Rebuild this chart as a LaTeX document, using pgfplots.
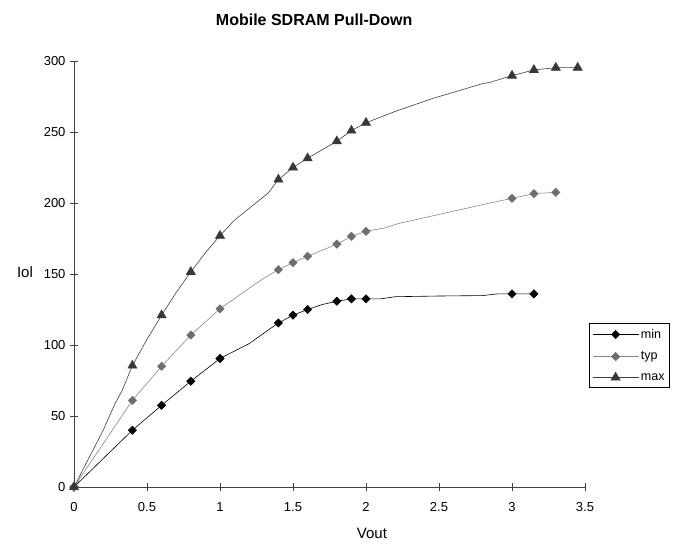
\documentclass[border=0pt]{standalone}
\usepackage{pgfplots}
\pgfplotsset{compat=1.18}
\usepackage{fontspec}
\setmainfont{Liberation Sans}
\definecolor{typline}{HTML}{888888}
\definecolor{typmark}{HTML}{6E6E6E}
\definecolor{maxline}{HTML}{404040}
\definecolor{maxmark}{HTML}{383838}
\begin{document}
\begin{tikzpicture}
\path[use as bounding box] (-74pt,-67pt) rectangle (605pt,487pt);
\begin{axis}[
  at={(0pt,0pt)}, anchor=south west,
  scale only axis, width=511pt, height=426pt,
  xmin=0, xmax=3.5, ymin=0, ymax=300,
  axis lines*=left,
  axis line style={line width=0.6pt, black!75},
  xtick={0,0.5,1,1.5,2,2.5,3,3.5},
  ytick={0,50,100,150,200,250,300},
  tick align=center,
  major tick length=8pt,
  tick style={line width=0.6pt, black!75},
  /pgf/number format/assume math mode=true,
  ticklabel style={font=\fontsize{13}{15}\selectfont},
  xticklabel style={yshift=-8pt},
  yticklabel style={xshift=-1pt},
  title={\textbf{Mobile SDRAM Pull-Down}},
  title style={font=\fontsize{16}{19}\selectfont, at={(axis description cs:0.47,1)}, anchor=south, yshift=26pt},
  xlabel={Vout},
  ylabel={Iol},
  xlabel style={font=\fontsize{15}{17}\selectfont, at={(axis description cs:0.583,-0.108)}, anchor=center},
  ylabel style={font=\fontsize{15}{17}\selectfont, rotate=-90, at={(axis description cs:-0.096,0.505)}, anchor=center},
  clip=false,
  legend style={at={(axis description cs:1.008,0.385)}, anchor=north west, draw=black, line width=0.5pt, font=\fontsize{12.5}{14}\selectfont, inner xsep=3pt, inner ysep=4pt, row sep=8pt, cells={anchor=west}},
  legend image code/.code={\draw[mark indices={2}] plot coordinates {(0pt,0pt) (23pt,0pt) (46pt,0pt)};},
]
\addplot[black, line width=0.6pt, mark=square*, mark size=2.9pt, mark options={rotate=45, solid, fill=black, draw=black}, mark indices={1,2,3,4,5,8,9,10,12,13,14,20,21}] coordinates {
(0,0) (0.4,40) (0.6,57.5) (0.8,74.5) (1.0,90.5) (1.2,101) (1.33,110.5) (1.4,115.5) (1.5,121) (1.6,125) (1.7,128.5) (1.8,130.8) (1.9,132.5) (2.0,132.5) (2.1,132.5) (2.2,134) (2.5,134.5) (2.8,134.8) (2.9,136) (3.0,136) (3.15,136)
};
\addlegendentry{min}
\addplot[typline, line width=0.6pt, mark=square*, mark size=2.9pt, mark options={rotate=45, solid, fill=typmark, draw=typmark}, mark indices={1,2,3,4,5,8,9,10,11,12,13,17,18,19}] coordinates {
(0,0) (0.4,61) (0.6,85) (0.8,107) (1.0,125.5) (1.2,140) (1.3,147) (1.4,153) (1.5,158) (1.6,162.5) (1.8,171) (1.9,176.5) (2.0,180) (2.13,182.5) (2.22,185.5) (2.85,200) (3.0,203.3) (3.15,206.6) (3.3,207.5)
};
\addlegendentry{typ}
\addplot[maxline, line width=0.6pt, mark=triangle*, mark size=5.2pt, mark options={solid, fill=maxmark, draw=maxmark}, mark indices={1,5,7,9,11,14,15,16,17,18,19,24,25,26,27}] coordinates {
(0,0) (0.2,40) (0.28,58.5) (0.33,68) (0.4,85.5) (0.5,104) (0.6,121) (0.7,137) (0.8,151.5) (0.9,165) (1.0,177) (1.1,188) (1.33,207) (1.4,216.5) (1.5,225) (1.6,231.5) (1.8,243.5) (1.9,251) (2.0,256.5) (2.2,264.5) (2.46,273.7) (2.79,283.8) (2.85,285) (3.0,289.7) (3.15,293.7) (3.3,295.3) (3.45,295.3)
};
\addlegendentry{max}
\end{axis}
\end{tikzpicture}
\end{document}
